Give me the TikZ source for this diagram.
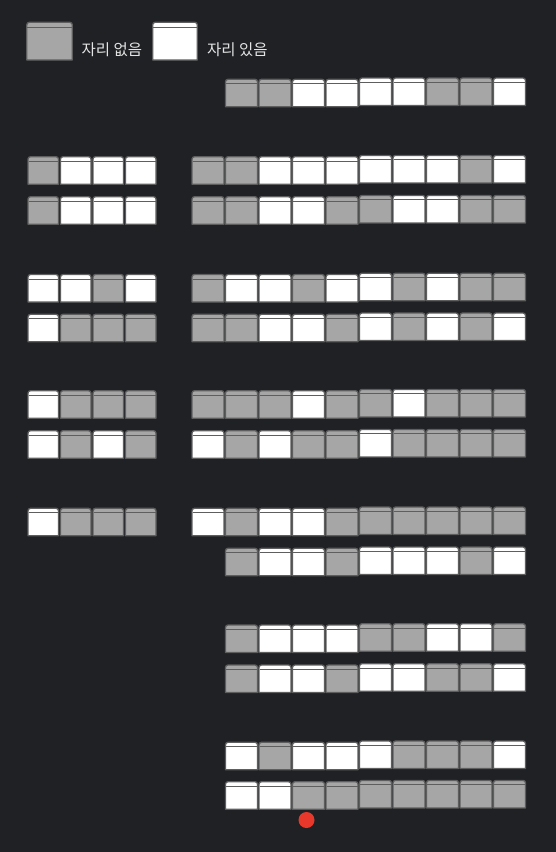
\documentclass[tikz,border=0pt]{standalone}
\usepackage{fontspec}
\newfontfamily\krfont{Noto Sans CJK KR}
\definecolor{bgcol}{HTML}{1F2124}
\definecolor{seatG}{HTML}{A6A6A6}
\definecolor{seatW}{HTML}{FFFFFF}
\definecolor{seatedge}{HTML}{5E5E5E}
\definecolor{labelcol}{HTML}{E4E4E4}
\definecolor{dotred}{HTML}{E8382C}
\tikzset{
  seatline/.style={draw=seatedge, line width=1.3pt, line join=round},
  legendtext/.style={font=\krfont\fontsize{15.5}{18}\selectfont, text=labelcol, anchor=west, inner sep=0pt},
}
% #1 x, #2 ytop, #3 width, #4 height, #5 fill colour, #6 cap depth
\newcommand\oneseat[6]{%
  \filldraw[seatline, fill=#5] (#1,-#2-#4) -- (#1,-#2-2.5) arc[start angle=180,end angle=90,radius=2.5pt]
     -- (#1+#3-2.5,-#2) arc[start angle=90,end angle=0,radius=2.5pt] -- (#1+#3,-#2-#4) -- cycle;
  \draw[seatline, line width=1pt] (#1+0.5,-#2-#6) -- (#1+#3-0.5,-#2-#6);
}
% #1 x0, #2 pitch, #3 width, #4 ytop, #5 list
\newcommand\seatrow[5]{%
  \foreach \c [count=\i from 0] in {#5} {
    \pgfmathsetmacro\xx{#1+#2*\i}
    \pgfmathsetmacro\yy{#4-(\xx>350)*1.3}
    \oneseat{\xx}{\yy}{#3}{27.5}{seat\c}{4.5}
  }%
}
\begin{document}
\begin{tikzpicture}[x=1pt,y=1pt]
\useasboundingbox (0,0) rectangle (556,-852);
\fill[bgcol] (0,0) rectangle (556,-852);
% legend
\oneseat{26.8}{22.3}{45.5}{37.7}{seatG}{5.5}
\node[legendtext] (lgG) at (81.5,-50) {자리 없음};
\oneseat{152.7}{22.3}{44.6}{37.7}{seatW}{5.5}
\node[legendtext] (lgW) at (207,-50) {자리 있음};
% left block rows
\seatrow{28}{32.5}{30.5}{156.7}{G,W,W,W}
\seatrow{28}{32.5}{30.5}{196.7}{G,W,W,W}
\seatrow{28}{32.5}{30.5}{274.5}{W,W,G,W}
\seatrow{28}{32.5}{30.5}{314.3}{W,G,G,G}
\seatrow{28}{32.5}{30.5}{390.7}{W,G,G,G}
\seatrow{28}{32.5}{30.5}{430.7}{W,G,W,G}
\seatrow{28}{32.5}{30.5}{508.3}{W,G,G,G}
% right block rows
\seatrow{225.5}{33.5}{32}{79.3}{G,G,W,W,W,W,G,G,W}
\seatrow{192}{33.5}{32}{156.7}{G,G,W,W,W,W,W,W,G,W}
\seatrow{192}{33.5}{32}{196.7}{G,G,W,W,G,G,W,W,G,G}
\seatrow{192}{33.5}{32}{274.5}{G,W,W,G,W,W,G,W,G,G}
\seatrow{192}{33.5}{32}{314.3}{G,G,W,W,G,W,G,W,G,W}
\seatrow{192}{33.5}{32}{390.7}{G,G,G,W,G,G,W,G,G,G}
\seatrow{192}{33.5}{32}{430.7}{W,G,W,G,G,W,G,G,G,G}
\seatrow{192}{33.5}{32}{508.3}{W,G,W,W,G,G,G,G,G,G}
\seatrow{225.5}{33.5}{32}{548.3}{G,W,W,G,W,W,W,G,W}
\seatrow{225.5}{33.5}{32}{625}{G,W,W,W,G,G,W,W,G}
\seatrow{225.5}{33.5}{32}{665}{G,W,W,G,W,W,G,G,W}
\seatrow{225.5}{33.5}{32}{742.3}{W,G,W,W,W,G,G,G,W}
\seatrow{225.5}{33.5}{32}{781.7}{W,W,G,G,G,G,G,G,G}
% red marker
\fill[dotred] (306.5,-820) circle[radius=8pt];
\end{tikzpicture}
\end{document}
